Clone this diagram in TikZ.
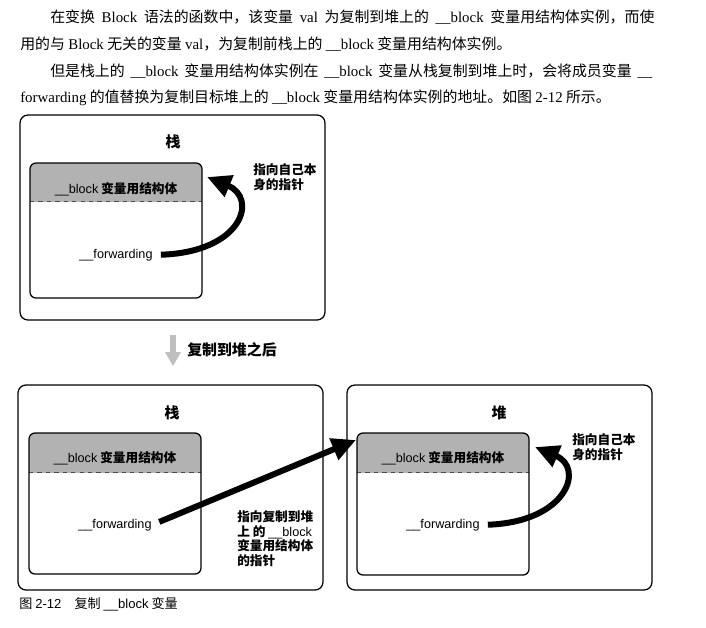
\documentclass[tikz,border=0pt]{standalone}
\usepackage{fontspec}
\setmainfont{Liberation Serif}
\setsansfont{Liberation Sans}
\newfontfamily\cjk{Noto Sans CJK SC}
\XeTeXlinebreaklocale "zh"
\XeTeXlinebreakskip=0pt plus 2pt
\usetikzlibrary{arrows.meta}
\newcommand\en[1]{{\rmfamily #1}}
\newcommand\sfw[1]{{\sffamily\mdseries #1}}

\begin{document}
\begin{tikzpicture}[x=0.025cm, y=-0.025cm,
  para/.style={anchor=west, inner sep=0pt, font=\cjk\fontsize{10.6}{12}\selectfont},
  outbox/.style={draw, line width=0.9pt, rounded corners=0.2cm},
  inbox/.style={draw, line width=0.9pt, rounded corners=0.15cm},
  hdrfill/.style={fill=black!30, rounded corners=0.15cm},
  dashline/.style={draw=black!70, dashed, line width=0.5pt},
  headtxt/.style={font=\cjk\bfseries\fontsize{10.6}{12}\selectfont, inner sep=0pt},
  lbl/.style={font=\cjk\bfseries\fontsize{9}{10.5}\selectfont, inner sep=0pt},
  note/.style={font=\cjk\bfseries\fontsize{9}{10.6}\selectfont, align=left, anchor=north west, inner sep=0pt},
  ptr/.style={line width=0.15cm, shorten <=0.2cm, -{Triangle[length=0.6cm, width=0.55cm]}}
]
  \useasboundingbox (0,0) rectangle (706,627);

  % text above the figure
  \node[para] (p1) at (50,17) {\makebox[15.1cm][s]{在变换 \en{Block} 语法的函数中，该变量 \en{val} 为复制到堆上的 \en{\_\_block} 变量用结构体实例，而使}};
  \node[para] (p2) at (20,44) {用的与 \en{Block} 无关的变量 \en{val}，为复制前栈上的 \en{\_\_block} 变量用结构体实例。};
  \node[para] (p3) at (50,71) {\makebox[15.05cm][s]{但是栈上的 \en{\_\_block} 变量用结构体实例在 \en{\_\_block} 变量从栈复制到堆上时，会将成员变量 \en{\_\_}}};
  \node[para] (p4) at (20,98) {\en{forwarding} 的值替换为复制目标堆上的 \en{\_\_block} 变量用结构体实例的地址。如图 \en{2-12} 所示。};

  % before the copy
  \draw[outbox] (20,115) rectangle (325,320);
  \node[headtxt] (stitle) at (173,142) {栈};
  \begin{scope}
    \clip (30,163) rectangle (202,201);
    \path[hdrfill] (30,163) rectangle (202,298);
  \end{scope}
  \draw[dashline] (30,201) -- (202,201);
  \draw[inbox] (30,163) rectangle (202,298);
  \node[lbl] (shdr) at (116,189) {\sfw{\_\_block} 变量用结构体};
  \node[lbl] (sfwd) at (116,255) {\sfw{\_\_forwarding}};
  \coordinate (stip) at (207,177);
  \draw[ptr] (sfwd.east) .. controls (243,252) and (258,198) .. (stip);
  \node[note] (snote) at (253,163) {指向自己本\\身的指针};

  % grey arrow
  \fill[black!25] (170,335) rectangle (176,353);
  \fill[black!25] (165,352) -- (181,352) -- (173,366) -- cycle;
  \node[headtxt, anchor=west] (after) at (187,350) {复制到堆之后};

  % after the copy: stack
  \draw[outbox] (18,385) rectangle (323,590);
  \node[headtxt] (ltitle) at (172,413) {栈};
  \begin{scope}
    \clip (29,433) rectangle (201,472);
    \path[hdrfill] (29,433) rectangle (201,574);
  \end{scope}
  \draw[dashline] (29,472) -- (201,472);
  \draw[inbox] (29,433) rectangle (201,574);
  \node[lbl] (lhdr) at (115,458) {\sfw{\_\_block} 变量用结构体};
  \node[lbl] (lfwd) at (115,525) {\sfw{\_\_forwarding}};
  \node[note] (lnote) at (237,510) {指向复制到堆\\上 的 \sfw{\_\_block}\\变量用结构体\\的指针};

  % after the copy: heap
  \draw[outbox] (347,385) rectangle (652,590);
  \node[headtxt] (htitle) at (499,413) {堆};
  \begin{scope}
    \clip (357,433) rectangle (529,472);
    \path[hdrfill] (357,433) rectangle (529,575);
  \end{scope}
  \draw[dashline] (357,472) -- (529,472);
  \draw[inbox] (357,433) rectangle (529,575);
  \node[lbl] (hhdr) at (443,458) {\sfw{\_\_block} 变量用结构体};
  \node[lbl] (hfwd) at (443,525) {\sfw{\_\_forwarding}};
  \coordinate (htip) at (535,447);
  \coordinate (hnw) at (356,440);
  \draw[ptr] (hfwd.east) .. controls (567,522) and (585,468) .. (htip);
  \node[note] (hnote) at (572,433) {指向自己本\\身的指针};

  \draw[ptr] (lfwd.east) -- (hnw);

  % caption
  \node[anchor=west, inner sep=0pt, font=\cjk\fontsize{9.3}{11}\selectfont] (cap) at (19,604) {图 \sfw{2-12}\quad 复制 \sfw{\_\_block} 变量};
\end{tikzpicture}
\end{document}
